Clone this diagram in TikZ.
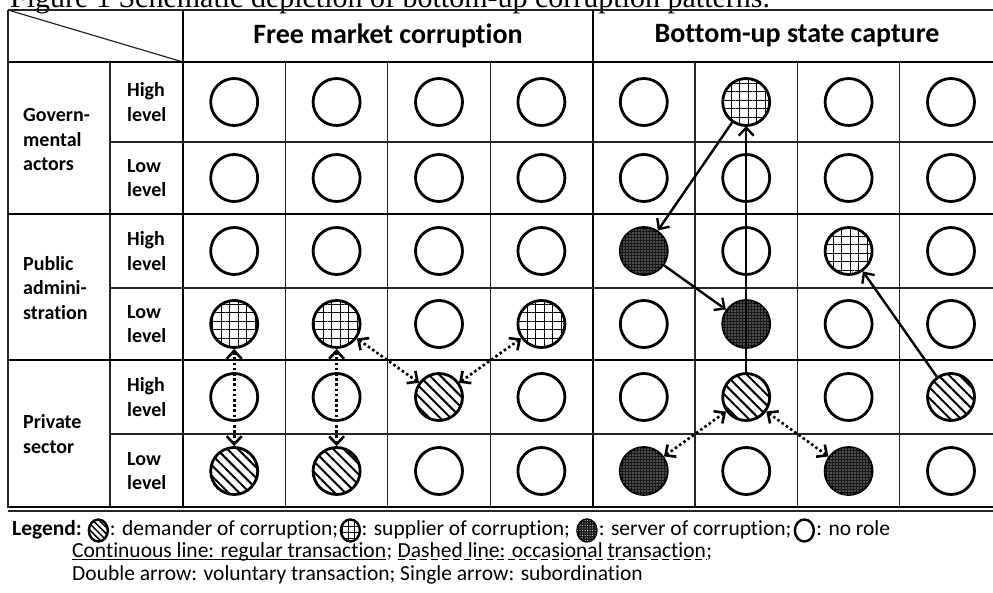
\documentclass[tikz,border=0pt]{standalone}
\usepackage{fontspec}
\setmainfont{Carlito}[Ligatures=CommonOff]
\newfontfamily\capfont{Liberation Serif}
\usetikzlibrary{positioning,arrows.meta,patterns.meta,shapes.geometric}

\tikzset{
  role/.style={shape=circle,draw=black,line width=2.8pt,minimum size=47pt,inner sep=0pt},
  demander/.style={role,pattern={Lines[angle=-45,distance=7.5pt,line width=2pt]}},
  supplier/.style={role,pattern={Hatch[angle=0,distance=8.5pt,line width=0.9pt]}},
  server/.style={role,fill=black!90,postaction={pattern={Dots[distance=3pt,radius=0.6pt]},pattern color=white}},
  legrole/.style={shape=ellipse,draw=black,line width=2.4pt,minimum width=19pt,minimum height=22pt,inner sep=0pt},
  legdem/.style={legrole,pattern={Lines[angle=-45,distance=4.5pt,line width=1.5pt]}},
  legsup/.style={legrole,pattern={Hatch[angle=0,distance=6pt,line width=1pt]}},
  legser/.style={legrole,fill=black!90,postaction={pattern={Dots[distance=2.5pt,radius=0.5pt]},pattern color=white}},
  thinline/.style={line width=1.2pt,draw=black!85},
  thickline/.style={line width=2.2pt,draw=black},
  headtext/.style={font=\fontsize{28}{34}\selectfont\bfseries,inner sep=0pt},
  grouptext/.style={font=\fontsize{20}{24.5}\selectfont\bfseries,align=left,anchor=west,inner sep=0pt},
  legtext/.style={font=\fontsize{21.5}{24}\selectfont,inner sep=0pt,text height=14pt,text depth=5pt},
  underl/.style={line width=1pt},
  dashunderl/.style={line width=1pt,dash pattern=on 7pt off 4pt},
  dotarrow/.style={<->,line width=2.6pt,dash pattern=on 2.6pt off 2.6pt},
  solarrow/.style={->,line width=2.4pt},
}

\begin{document}
\begin{tikzpicture}[x=1pt,y=-1pt,>={Straight Barb[length=8pt,width=15pt]}]
        \useasboundingbox (0,0) rectangle (993,593);
        % caption, cut by the top edge
        \node[font=\capfont\fontsize{30}{34}\selectfont,inner sep=0pt,anchor=base west] (cap) at (10,7.5) {Figure 1 Schematic depiction of bottom-up corruption patterns.};
        % table
        \draw[thinline] (8,10) -- (1000,10);
        \draw[thinline] (8,10) -- (183,62);
        \draw[thickline] (8,62) -- (1000,62);
        \draw[thinline] (8,10) -- (8,508);
        \draw[thinline] (110,62) -- (110,508);
        \draw[thickline] (183,10) -- (183,508);
        \draw[thickline] (592.6,10) -- (592.6,508);
        \draw[thinline] (285.4,62) -- (285.4,508);
        \draw[thinline] (387.8,62) -- (387.8,508);
        \draw[thinline] (490.2,62) -- (490.2,508);
        \draw[thinline] (695,62) -- (695,508);
        \draw[thinline] (797.4,62) -- (797.4,508);
        \draw[thinline] (899.8,62) -- (899.8,508);
        \draw[thinline] (110,142) -- (1000,142);
        \draw[thickline] (8,214) -- (1000,214);
        \draw[thinline] (110,288) -- (1000,288);
        \draw[thickline] (8,360) -- (1000,360);
        \draw[thinline] (110,434) -- (1000,434);
        \draw[thickline] (8,507) -- (1000,507);
        \draw[thinline] (8,511) -- (1000,511);
        \node[headtext] (fmc) at (388,36) {Free market corruption};
        \node[headtext] (bsc) at (797,36) {Bottom-up state capture};
        \node[grouptext] (gov) at (23,140) {Govern-\\mental\\actors};
        \node[grouptext] (pub) at (23,288) {Public\\admini-\\stration};
        \node[grouptext] (priv) at (23,434) {Private\\sector};
        \node[grouptext] (l1) at (127,102) {High\\level};
        \node[grouptext] (l2) at (127,178) {Low\\level};
        \node[grouptext] (l3) at (127,251) {High\\level};
        \node[grouptext] (l4) at (127,324) {Low\\level};
        \node[grouptext] (l5) at (127,397) {High\\level};
        \node[grouptext] (l6) at (127,471) {Low\\level};
        % governmental actors
        \node[role] (r1c1) at (234.2,102) {};
        \node[role] (r1c2) at (336.6,102) {};
        \node[role] (r1c3) at (439,102) {};
        \node[role] (r1c4) at (541.4,102) {};
        \node[role] (r1c5) at (643.8,102) {};
        \node[supplier] (r1c6) at (746.2,102) {};
        \node[role] (r1c7) at (848.6,102) {};
        \node[role] (r1c8) at (951,102) {};
        \node[role] (r2c1) at (234.2,178) {};
        \node[role] (r2c2) at (336.6,178) {};
        \node[role] (r2c3) at (439,178) {};
        \node[role] (r2c4) at (541.4,178) {};
        \node[role] (r2c5) at (643.8,178) {};
        \node[role] (r2c6) at (746.2,178) {};
        \node[role] (r2c7) at (848.6,178) {};
        \node[role] (r2c8) at (951,178) {};
        % public administration
        \node[role] (r3c1) at (234.2,251) {};
        \node[role] (r3c2) at (336.6,251) {};
        \node[role] (r3c3) at (439,251) {};
        \node[role] (r3c4) at (541.4,251) {};
        \node[server] (r3c5) at (643.8,251) {};
        \node[role] (r3c6) at (746.2,251) {};
        \node[supplier] (r3c7) at (848.6,251) {};
        \node[role] (r3c8) at (951,251) {};
        \node[supplier] (r4c1) at (234.2,324) {};
        \node[supplier] (r4c2) at (336.6,324) {};
        \node[role] (r4c3) at (439,324) {};
        \node[supplier] (r4c4) at (541.4,324) {};
        \node[role] (r4c5) at (643.8,324) {};
        \node[server] (r4c6) at (746.2,324) {};
        \node[role] (r4c7) at (848.6,324) {};
        \node[role] (r4c8) at (951,324) {};
        % private sector
        \node[role] (r5c1) at (234.2,397) {};
        \node[role] (r5c2) at (336.6,397) {};
        \node[demander] (r5c3) at (439,397) {};
        \node[role] (r5c4) at (541.4,397) {};
        \node[role] (r5c5) at (643.8,397) {};
        \node[demander] (r5c6) at (746.2,397) {};
        \node[role] (r5c7) at (848.6,397) {};
        \node[demander] (r5c8) at (951,397) {};
        \node[demander] (r6c1) at (234.2,471) {};
        \node[demander] (r6c2) at (336.6,471) {};
        \node[role] (r6c3) at (439,471) {};
        \node[role] (r6c4) at (541.4,471) {};
        \node[server] (r6c5) at (643.8,471) {};
        \node[role] (r6c6) at (746.2,471) {};
        \node[server] (r6c7) at (848.6,471) {};
        \node[role] (r6c8) at (951,471) {};
        % transactions
        \draw[dotarrow] (r4c1) -- (r6c1);
        \draw[dotarrow] (r4c2) -- (r6c2);
        \draw[dotarrow] (r4c2) -- (r5c3);
        \draw[dotarrow] (r5c3) -- (r4c4);
        \draw[solarrow] (r1c6) -- (r3c5);
        \draw[solarrow] (r3c5) -- (r4c6);
        \draw[solarrow] (r5c6) -- (r1c6);
        \draw[solarrow] (r5c8) -- (r3c7);
        \draw[dotarrow] (r5c6) -- (r6c5);
        \draw[dotarrow] (r5c6) -- (r6c7);
        % legend
        \node[legtext,anchor=base west] (legend) at (12,535) {\bfseries Legend:};
        \node[legdem,right=6pt of legend] (ldem) {};
        \node[legtext,right=1pt of ldem] (tdem) {: demander of corruption;};
        \node[legsup,right=2pt of tdem] (lsup) {};
        \node[legtext,right=1pt of lsup] (tsup) {: supplier of corruption;};
        \node[legser,right=6pt of tsup] (lser) {};
        \node[legtext,right=1pt of lser] (tser) {: server of corruption;};
        \node[legrole,right=2pt of tser] (lnone) {};
        \node[legtext,right=1pt of lnone] (tnone) {: no role};
        \node[legtext,anchor=base west] (cont) at (72,557) {Continuous line: regular transaction};
        \node[legtext,right=0pt of cont] (semi1) {;};
        \node[legtext,right=5pt of semi1] (dash) {Dashed line: occasional transaction};
        \node[legtext,right=0pt of dash] (semi2) {;};
        \draw[underl] ([yshift=-2.5pt]cont.base west) -- ([yshift=-2.5pt]cont.base east);
        \draw[dashunderl] ([yshift=-2.5pt]dash.base west) -- ([yshift=-2.5pt]dash.base east);
        \node[legtext,anchor=base west] (arrows) at (72,580) {Double arrow: voluntary transaction; Single arrow: subordination};
\end{tikzpicture}
\end{document}
